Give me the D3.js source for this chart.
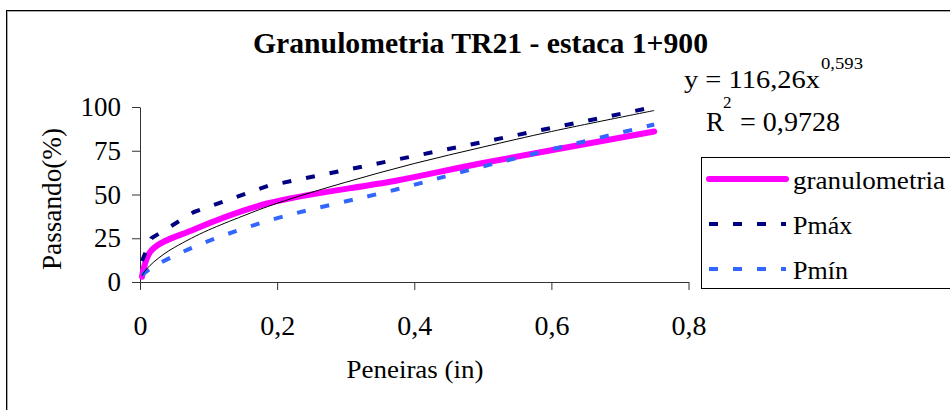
<!DOCTYPE html>
<html><head><meta charset="utf-8">
<script src="https://cdn.jsdelivr.net/npm/d3@7"></script>
<style>body{margin:0;background:#fff}</style>
</head><body>
<svg id="c" width="950" height="410"></svg>
<script>
// ---- data ----
const sieves = [0.0029, 0.0165, 0.0787, 0.187, 0.375, 0.5, 0.75];     // sieve openings (in)
const granulometria = [3, 18, 30, 45, 58, 68, 86];
const pmax = [12, 25, 40, 55, 70, 80, 100];
const pmin = [4, 8, 20, 35, 53, 66, 90];
// thin black trend line
const trendX = [0.0029, 0.005, 0.01, 0.02, 0.035, 0.05, 0.075, 0.1, 0.15, 0.2, 0.3, 0.4, 0.5, 0.6, 0.75];
const trendY = [3.6, 5, 7.6, 11.4, 16, 19.7, 25, 29.7, 37.7, 45, 57, 67.7, 77.1, 86, 98];
const xTicks = [0, 0.2, 0.4, 0.6, 0.8];
const yTicks = [0, 25, 50, 75, 100];
const title = "Granulometria TR21 - estaca 1+900";
const seriesNames = ["granulometria", "Pmáx", "Pmín"];
const colors = ["#FF00FF", "#000080", "#3366FF"];

const FONT = "Liberation Serif";
const svg = d3.select("#c");
const txt = (sel) => sel.attr("font-family", FONT).style("font-family", "'" + FONT + "'").attr("fill", "#000");

svg.append("rect").attr("width",950).attr("height",410).attr("fill","#fff");
// outer frame
svg.append("rect").attr("x",6.5).attr("y",10.5).attr("width",960).attr("height",420)
  .attr("fill","none").attr("stroke","#000").attr("stroke-width",1);
svg.append("rect").attr("x",7.5).attr("y",11.5).attr("width",960).attr("height",420)
  .attr("fill","none").attr("stroke","#aaa").attr("stroke-width",1);

const x = d3.scaleLinear().domain([0,0.8]).range([140,688.5]);
const y = d3.scaleLinear().domain([0,100]).range([282,107]);

// title
svg.append("text").call(txt).attr("x",480.5).attr("y",53).attr("text-anchor","middle")
  .attr("font-size",30).attr("font-weight","bold")
  .attr("textLength",455).attr("lengthAdjust","spacingAndGlyphs").text(title);

// axes
const fmt = d => d === 0 ? "0" : String(d).replace(".", ",");
const gx = svg.append("g").attr("transform","translate(0,282)")
  .call(d3.axisBottom(x).tickValues(xTicks).tickFormat(fmt).tickSize(8).tickSizeOuter(0));
gx.attr("font-family", FONT);
gx.selectAll("text").call(txt).attr("font-size",28).attr("y",53).attr("dy",0);
const gy = svg.append("g").attr("transform","translate(140,0)")
  .call(d3.axisLeft(y).tickValues(yTicks).tickSize(8).tickSizeOuter(0).tickPadding(11));
gy.attr("font-family", FONT);
gy.selectAll("text").call(txt).attr("font-size",27);
svg.selectAll(".domain, .tick line").attr("stroke","#333");

// axis titles
svg.append("text").call(txt).attr("transform","translate(61,199) rotate(-90)").attr("text-anchor","middle")
  .attr("font-size",27).attr("textLength",142).attr("lengthAdjust","spacingAndGlyphs").text("Passando(%)");
svg.append("text").call(txt).attr("x",415).attr("y",378).attr("text-anchor","middle")
  .attr("font-size",26).attr("textLength",137).attr("lengthAdjust","spacingAndGlyphs").text("Peneiras (in)");

// series
const smooth = d3.line().x(d => x(d[0])).y(d => y(d[1])).curve(d3.curveCatmullRom.alpha(0.5));
const straight = d3.line().x(d => x(d[0])).y(d => y(d[1]));
const allSeries = [granulometria, pmax, pmin];
const styles = [
  {w:6, dash:null, cap:"round", gen:smooth},
  {w:4, dash:"9,15", cap:"butt", gen:straight},
  {w:4, dash:"9,15", cap:"butt", gen:smooth}
];
allSeries.forEach((s,i) => {
  svg.append("path").datum(sieves.map((sv,j)=>[sv,s[j]]))
    .attr("d",styles[i].gen).attr("fill","none").attr("stroke",colors[i])
    .attr("stroke-width",styles[i].w).attr("stroke-linecap",styles[i].cap)
    .attr("stroke-linejoin","round")
    .attr("stroke-dasharray",styles[i].dash);
});
// trend line
svg.append("path").datum(trendX.map((t,j)=>[t,trendY[j]]))
  .attr("d",smooth).attr("fill","none").attr("stroke","#000").attr("stroke-width",1);

// trend equation
svg.append("text").call(txt).attr("x",684).attr("y",88).attr("font-size",26)
  .attr("textLength",136).attr("lengthAdjust","spacingAndGlyphs").text("y = 116,26x");
svg.append("text").call(txt).attr("x",821).attr("y",69).attr("font-size",17)
  .attr("textLength",42).attr("lengthAdjust","spacingAndGlyphs").text("0,593");
svg.append("text").call(txt).attr("x",706).attr("y",131).attr("font-size",27).text("R");
svg.append("text").call(txt).attr("x",723).attr("y",108).attr("font-size",17).text("2");
svg.append("text").call(txt).attr("x",740).attr("y",131).attr("font-size",27)
  .attr("textLength",100).attr("lengthAdjust","spacingAndGlyphs").text("= 0,9728");

// legend
const lg = svg.append("g");
lg.append("rect").attr("x",701.5).attr("y",157.5).attr("width",270).attr("height",131)
  .attr("fill","#fff").attr("stroke","#000").attr("stroke-width",1);
const ly = [179, 224, 269];
const tw = [152, null, null];
seriesNames.forEach((n,i) => {
  lg.append("line").attr("x1",709).attr("x2",786).attr("y1",ly[i]).attr("y2",ly[i])
    .attr("stroke",colors[i]).attr("stroke-width",styles[i].w)
    .attr("stroke-linecap",styles[i].cap).attr("stroke-dasharray",styles[i].dash);
  const t = lg.append("text").call(txt).attr("x",793).attr("y",ly[i]+9.5).attr("font-size",26).text(n);
  if (tw[i]) t.attr("textLength",tw[i]).attr("lengthAdjust","spacingAndGlyphs");
});
</script>
</body></html>
